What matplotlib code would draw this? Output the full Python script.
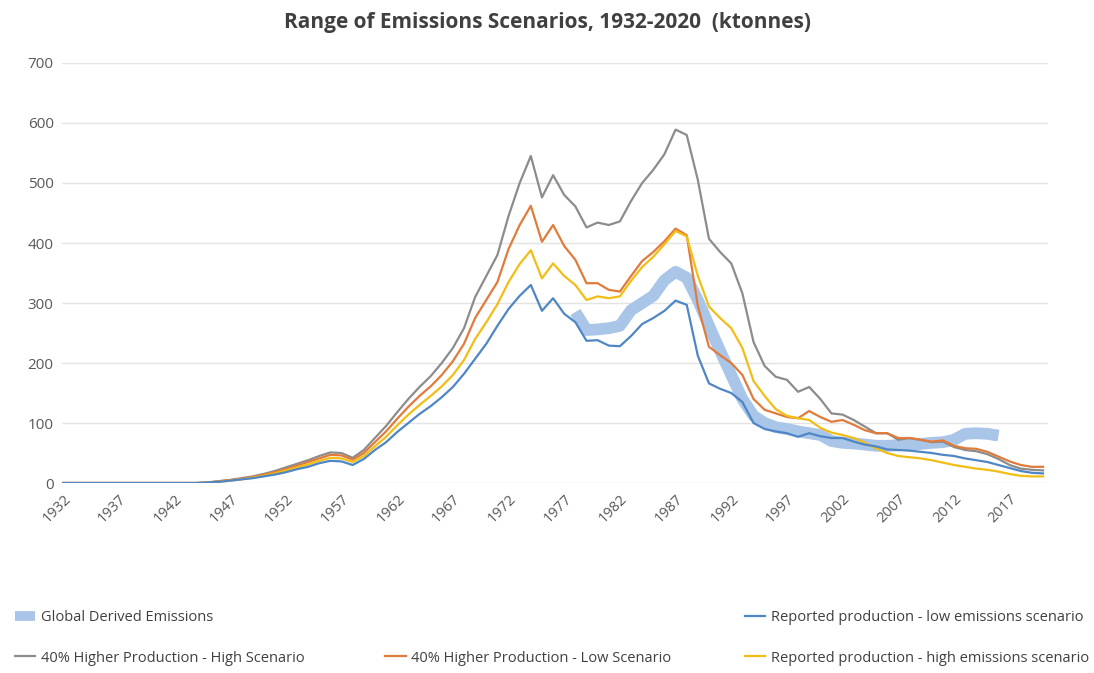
import matplotlib.pyplot as plt
from matplotlib.lines import Line2D
import numpy as np

plt.rcParams['font.family'] = ['Open Sans', 'DejaVu Sans']

years = np.arange(1932, 2021)

# values, ktonnes, 1932-2020
zeros13 = [0] * 13  # 1932-1944
high_40_high = zeros13 + [
    1, 3, 5, 8, 11, 15, 20, 26, 32, 38, 45, 51, 50, 42, 55,            # 1945-1959
    75, 95, 118, 140, 160, 178, 200, 225, 258, 310,                   # 1960-1969
    345, 380, 445, 500, 545, 476, 513, 480, 461, 426,                 # 1970-1979
    434, 430, 436, 470, 500, 522, 548, 589, 580, 505,                 # 1980-1989
    407, 385, 366, 316, 235, 195, 177, 172, 152, 160,                 # 1990-1999
    140, 116, 114, 105, 94, 83, 83, 72, 75, 72,                       # 2000-2009
    68, 69, 60, 55, 53, 48, 40, 30, 24, 22, 21]                       # 2010-2020
high_40_low = zeros13 + [
    1, 3, 5, 7, 10, 14, 18, 23, 29, 35, 41, 47, 46, 39, 50,
    68, 86, 107, 127, 145, 161, 180, 203, 232, 275,
    305, 335, 390, 430, 462, 402, 430, 395, 372, 333,
    333, 322, 319, 345, 370, 385, 403, 424, 413, 295,
    227, 213, 200, 180, 140, 122, 116, 110, 108, 120,
    110, 102, 105, 97, 88, 83, 83, 75, 75, 72,
    69, 71, 62, 58, 57, 52, 44, 36, 30, 27, 27]
reported_high = zeros13 + [
    1, 2, 4, 6, 9, 12, 16, 21, 26, 31, 37, 42, 41, 35, 45,
    61, 77, 96, 114, 130, 145, 161, 180, 205, 240,
    268, 298, 335, 365, 388, 341, 366, 345, 330, 305,
    311, 308, 311, 337, 360, 377, 398, 420, 411, 345,
    294, 275, 258, 225, 170, 145, 123, 112, 108, 105,
    92, 84, 80, 75, 67, 58, 50, 45, 43, 41,
    38, 34, 30, 27, 24, 22, 19, 15, 12, 11, 11]
reported_low = zeros13 + [
    1, 2, 4, 6, 8, 11, 14, 18, 23, 27, 33, 37, 36, 30, 40,
    55, 68, 85, 100, 115, 128, 143, 160, 182, 207,
    232, 262, 290, 312, 330, 287, 308, 282, 268, 237,
    238, 229, 228, 245, 265, 275, 287, 304, 297, 212,
    166, 157, 150, 135, 100, 90, 86, 83, 77, 83,
    78, 75, 75, 69, 64, 61, 56, 55, 54, 52,
    50, 47, 45, 41, 38, 35, 30, 25, 20, 17, 16]

derived_years = np.arange(1978, 2017)
derived = [
    285, 255, 256, 258, 262, 288, 300, 312, 338, 352,                 # 1978-1987
    342, 305, 262, 220, 180, 140, 112, 100, 93, 90,                   # 1988-1997
    86, 83, 80, 70, 67, 66, 64, 62, 62, 63,                           # 1998-2007
    64, 65, 67, 68, 72, 82, 83, 82, 79]                               # 2008-2016

tick_years = np.arange(1932, 2021, 5)
y_ticks = np.arange(0, 701, 100)

c_band = '#a9c6e8'
c_gray = '#8c8c8c'
c_orange = '#e07b3c'
c_yellow = '#f2bd14'
c_blue = '#4f86c6'

fig = plt.figure(figsize=(10.94, 6.73), dpi=100)
ax = fig.add_axes([0.0567, 0.2823, 0.9013, 0.6241])

ax.plot(derived_years, derived, color=c_band, lw=8.5, solid_capstyle='butt', zorder=2)
ax.plot(years, high_40_high, color=c_gray, lw=1.6, zorder=3)
ax.plot(years, high_40_low, color=c_orange, lw=1.6, zorder=3)
ax.plot(years, reported_high, color=c_yellow, lw=1.6, zorder=3)
ax.plot(years, reported_low, color=c_blue, lw=1.6, zorder=4)

ax.set_xlim(1931.9, 2020.45)
ax.set_ylim(0, 700)
ax.set_yticks(y_ticks)
ax.set_xticks(tick_years)
ax.set_xticklabels([str(y) for y in tick_years], rotation=45, ha='right',
                   rotation_mode='anchor', color='#595959', fontsize=10.5)
ax.tick_params(axis='y', labelcolor='#595959', labelsize=11, length=0, pad=6)
ax.tick_params(axis='x', length=0, pad=6)
ax.grid(axis='y', color='#e3e3e3', lw=1)
ax.set_axisbelow(True)
for s in ax.spines.values():
    s.set_visible(False)

fig.text(0.5, 0.967, 'Range of Emissions Scenarios, 1932-2020  (ktonnes)',
         ha='center', va='center', fontsize=15, fontweight='bold', color='#404040')

leg_kw = dict(frameon=False, fontsize=10.5, labelcolor='#404040', handlelength=1.4,
              handletextpad=0.4, labelspacing=1.75, loc='upper left',
              borderaxespad=0, borderpad=0)
blank = Line2D([], [], alpha=0)
fig.legend([Line2D([], [], color=c_band, lw=7, solid_capstyle='butt'),
            Line2D([], [], color=c_gray, lw=1.6)],
           ['Global Derived Emissions', '40% Higher Production - High Scenario'],
           bbox_to_anchor=(0.0137, 0.0936), **leg_kw)
fig.legend([blank, Line2D([], [], color=c_orange, lw=1.6)],
           [' ', '40% Higher Production - Low Scenario'],
           bbox_to_anchor=(0.352, 0.0936), **leg_kw)
fig.legend([Line2D([], [], color=c_blue, lw=1.6),
            Line2D([], [], color=c_yellow, lw=1.6)],
           ['Reported production - low emissions scenario',
            'Reported production - high emissions scenario'],
           bbox_to_anchor=(0.681, 0.0936), **leg_kw)

plt.savefig('out.png', dpi=100)
